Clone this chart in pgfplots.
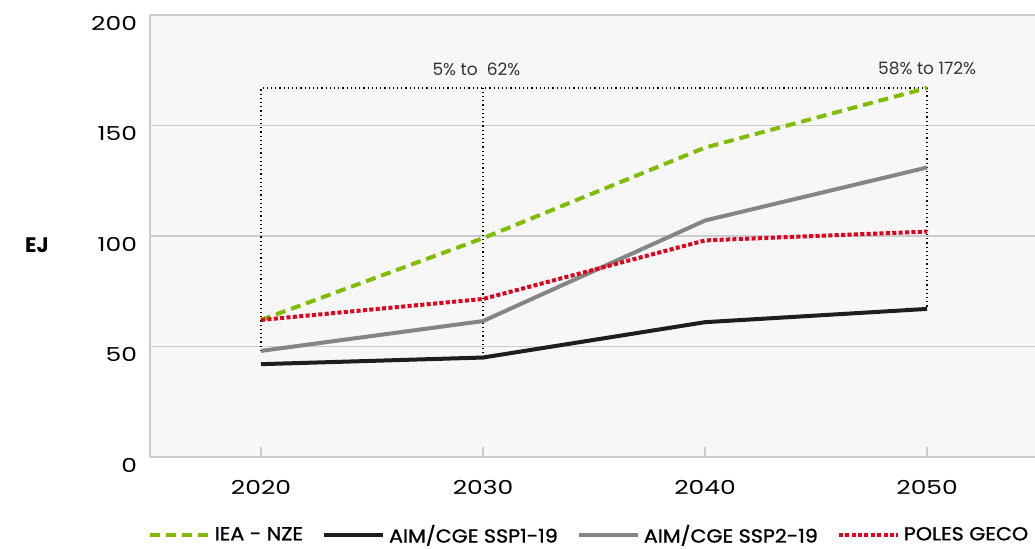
\documentclass[border=0pt]{standalone}
\usepackage{fontspec}
\setmainfont{Poppins}
\newfontfamily\tickfont{Poppins}[FakeStretch=1.3]
\newfontfamily\legfont{Poppins}[FakeBold=1.2, FakeStretch=1.1]
\usepackage{pgfplots}
\pgfplotsset{compat=1.18}
\definecolor{bggray}{HTML}{F7F7F7}
\definecolor{gridgray}{HTML}{CCCCCC}
\definecolor{nzegreen}{RGB}{128,188,0}
\definecolor{sspblack}{HTML}{1E1E1E}
\definecolor{sspgray}{HTML}{858585}
\definecolor{polesred}{RGB}{226,0,26}
\begin{document}
\begin{tikzpicture}
\begin{axis}[
  scale only axis,
  clip=false,
  width=442.5pt, height=221pt,
  xmin=2015, xmax=2054.86,
  ymin=0, ymax=200,
  xtick={2020,2030,2040,2050},
  ytick={0,50,100,150,200},
  axis lines*=left,
  axis line style={gridgray, line width=0.6pt},
  ymajorgrids,
  grid style={gridgray, line width=0.6pt},
  axis background/.style={fill=bggray},
  tick style={gridgray, line width=0.6pt},
  xtick pos=bottom, ytick style={draw=none},
  major tick length=5pt,
  xtick align=inside,
  /pgf/number format/assume math mode=true,
  /pgf/number format/1000 sep={},
  tick label style={font=\tickfont\fontsize{9.6}{11}\selectfont, text=black},
  xticklabel style={yshift=-8pt},
  yticklabel style={xshift=-3pt, yshift=-4pt},
  legend columns=4,
  legend style={at={(0.496,-0.177)}, anchor=center, draw=none, fill=none,
    font=\legfont\fontsize{9.4}{11}\selectfont,
    /tikz/every even column/.append style={column sep=8.5pt},
    nodes={inner xsep=1pt, inner ysep=1pt}},
  legend image code/.code={\draw[#1] (0pt,0pt) -- (29.5pt,0pt); \path (30.5pt,0pt);},
  every axis plot/.append style={line join=round},
]
% dotted annotation frame
\addplot[forget plot, black, line width=0.6pt, dash pattern=on 0.6pt off 1.5pt] coordinates {(2020,48) (2020,167) (2050,167) (2050,67)};
\addplot[forget plot, black, line width=0.6pt, dash pattern=on 0.6pt off 1.5pt] coordinates {(2030,45) (2030,167)};

\addplot[nzegreen, line width=2pt, dash pattern=on 5pt off 3pt] coordinates {(2020,62) (2030,99) (2040,140) (2050,167)};
\addlegendentry{IEA - NZE}
\addplot[sspblack, line width=2pt] coordinates {(2020,42) (2030,45) (2040,61) (2050,67)};
\addlegendentry{AIM/CGE SSP1-19}
\addplot[sspgray, line width=2pt] coordinates {(2020,48) (2030,61.5) (2040,107) (2050,131)};
\addlegendentry{AIM/CGE SSP2-19}
\addplot[polesred, line width=2pt, dash pattern=on 2pt off 1.2pt] coordinates {(2020,62) (2030,71.5) (2040,98) (2050,102)};
\addlegendentry{POLES GECO}

\node[font=\fontsize{8.5}{10}\selectfont, text=black!80, anchor=south] at (axis cs:2029.7,169.5) {5\% to\ \ 62\%};
\node[font=\fontsize{8.5}{10}\selectfont, text=black!80, anchor=south] at (axis cs:2050,169.5) {58\% to 172\%};
\node[font=\bfseries\fontsize{10.5}{12}\selectfont] at ([xshift=-56.5pt]axis cs:2015,96) {EJ};
\end{axis}
\pgfresetboundingbox
\path ([xshift=-75pt,yshift=-46pt]current axis.south west) rectangle ([yshift=7.5pt]current axis.north east);
\end{tikzpicture}
\end{document}
